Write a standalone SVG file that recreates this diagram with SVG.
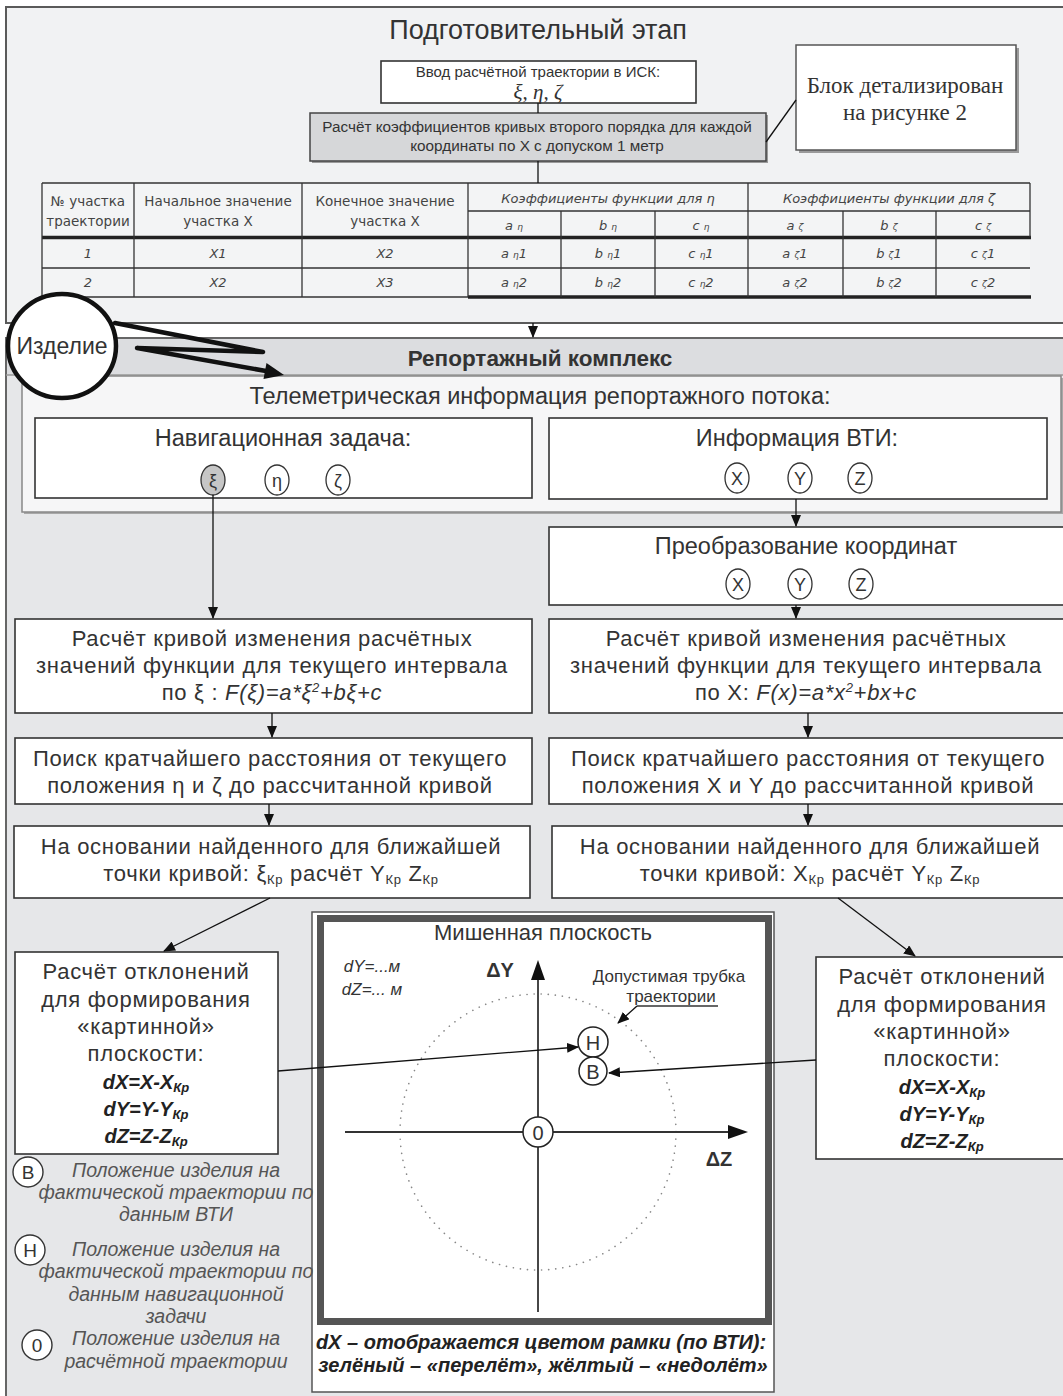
<svg xmlns="http://www.w3.org/2000/svg" width="1063" height="1396" viewBox="0 0 1063 1396">
<defs>
<marker id="arr" markerUnits="userSpaceOnUse" markerWidth="12" markerHeight="10" refX="11" refY="5" orient="auto"><path d="M0,0 L12,5 L0,10 z" fill="#111"/></marker>
</defs>
<style>
.s{font-family:"Liberation Sans",Arial,sans-serif;fill:#333;text-anchor:middle}
.serif{font-family:"Liberation Serif","Times New Roman",serif;fill:#333;text-anchor:middle}
.g{font-family:"DejaVu Sans",sans-serif;fill:#444;text-anchor:middle;font-size:13.5px}
.gi{font-family:"DejaVu Sans",sans-serif;fill:#444;text-anchor:middle;font-size:13px;font-style:italic}
.box{fill:#fff;stroke:#333;stroke-width:1.6}
.shadow{fill:#9a9a9a}
.big{font-size:22px;letter-spacing:0.7px}
.hd{font-size:23.5px}
.leg{font-family:"Liberation Sans",Arial,sans-serif;font-style:italic;fill:#555;text-anchor:middle;font-size:19.5px}
.tl{stroke:#333;stroke-width:1.3;fill:none}
.tk{stroke:#222;stroke-width:3.5;fill:none}
.con{stroke:#111;stroke-width:1.3;fill:none}
.frm{font-family:"Liberation Sans",Arial,sans-serif;font-style:italic;font-weight:bold;fill:#222;text-anchor:middle;font-size:20px}
</style>
<rect x="0" y="0" width="1063" height="1396" fill="#ffffff"/>

<g id="prep-panel">
<rect x="6" y="7" width="1062" height="316" fill="#f1f2f3" stroke="#5a5a5a" stroke-width="2"/>
<text class="s" x="538" y="39" font-size="27">Подготовительный этап</text>
</g>

<g id="input-node">
<rect x="381" y="61" width="315" height="42" class="box"/>
<text class="s" x="538" y="77" font-size="15">Ввод расчётной траектории в ИСК:</text>
<text class="serif" x="538" y="99" font-size="21" font-style="italic">ξ, η, ζ</text>
</g>

<g id="coef-node">
<rect x="312" y="115" width="456" height="48" class="shadow"/>
<rect x="310" y="113" width="456" height="48" fill="#d6d7d9" stroke="#444" stroke-width="1.5"/>
<text class="s" x="537" y="132" font-size="15.3">Расчёт коэффициентов кривых второго порядка для каждой</text>
<text class="s" x="537" y="151" font-size="15.3">координаты по X с допуском 1 метр</text>
</g>

<g id="callout-node">
<rect x="799" y="48" width="220" height="105" class="shadow"/>
<rect x="796" y="45" width="220" height="105" fill="#fff" stroke="#555" stroke-width="1.5"/>
<text class="serif" x="905" y="93" font-size="23">Блок детализирован</text>
<text class="serif" x="905" y="120" font-size="23">на рисунке 2</text>
</g>

<g id="coef-table">
<rect x="42" y="183" width="988" height="114" fill="#f3f4f5" stroke="none"/>
<line class="tl" x1="42" y1="183" x2="1030" y2="183"/>
<line class="tl" x1="468" y1="211" x2="1030" y2="211"/>
<line class="tk" x1="42" y1="237.5" x2="1031" y2="237.5"/>
<line class="tl" x1="42" y1="268" x2="1030" y2="268"/>
<line class="tl" x1="42" y1="297" x2="468" y2="297"/>
<line class="tk" x1="468" y1="297" x2="1031" y2="297"/>
<line class="tl" x1="42" y1="183" x2="42" y2="297"/>
<line class="tl" x1="134" y1="183" x2="134" y2="297"/>
<line class="tl" x1="302" y1="183" x2="302" y2="297"/>
<line class="tl" x1="468" y1="183" x2="468" y2="297"/>
<line class="tl" x1="561" y1="211" x2="561" y2="297"/>
<line class="tl" x1="655" y1="211" x2="655" y2="297"/>
<line class="tl" x1="748" y1="183" x2="748" y2="297"/>
<line class="tl" x1="843" y1="211" x2="843" y2="297"/>
<line class="tl" x1="936" y1="211" x2="936" y2="297"/>
<line class="tl" x1="1030" y1="183" x2="1030" y2="237"/>
<text class="g" x="88" y="206">№ участка</text>
<text class="g" x="88" y="226">траектории</text>
<text class="g" x="218" y="206">Начальное значение</text>
<text class="g" x="218" y="226">участка  X</text>
<text class="g" x="385" y="206">Конечное значение</text>
<text class="g" x="385" y="226">участка  X</text>
<text class="gi" x="608" y="203">Коэффициенты функции для  η</text>
<text class="gi" x="889" y="203">Коэффициенты функции для  ζ</text>
<text class="gi" x="514" y="230">a <tspan font-size="9">η</tspan></text>
<text class="gi" x="608" y="230">b <tspan font-size="9">η</tspan></text>
<text class="gi" x="701" y="230">c <tspan font-size="9">η</tspan></text>
<text class="gi" x="795" y="230">a <tspan font-size="9">ζ</tspan></text>
<text class="gi" x="889" y="230">b <tspan font-size="9">ζ</tspan></text>
<text class="gi" x="983" y="230">c <tspan font-size="9">ζ</tspan></text>
<text class="gi" x="88" y="258">1</text>
<text class="gi" x="218" y="258">X1</text>
<text class="gi" x="385" y="258">X2</text>
<text class="gi" x="514" y="258">a <tspan font-size="9">η</tspan>1</text>
<text class="gi" x="608" y="258">b <tspan font-size="9">η</tspan>1</text>
<text class="gi" x="701" y="258">c <tspan font-size="9">η</tspan>1</text>
<text class="gi" x="795" y="258">a <tspan font-size="9">ζ</tspan>1</text>
<text class="gi" x="889" y="258">b <tspan font-size="9">ζ</tspan>1</text>
<text class="gi" x="983" y="258">c <tspan font-size="9">ζ</tspan>1</text>
<text class="gi" x="88" y="287">2</text>
<text class="gi" x="218" y="287">X2</text>
<text class="gi" x="385" y="287">X3</text>
<text class="gi" x="514" y="287">a <tspan font-size="9">η</tspan>2</text>
<text class="gi" x="608" y="287">b <tspan font-size="9">η</tspan>2</text>
<text class="gi" x="701" y="287">c <tspan font-size="9">η</tspan>2</text>
<text class="gi" x="795" y="287">a <tspan font-size="9">ζ</tspan>2</text>
<text class="gi" x="889" y="287">b <tspan font-size="9">ζ</tspan>2</text>
<text class="gi" x="983" y="287">c <tspan font-size="9">ζ</tspan>2</text>
</g>

<g id="reportage-panel">
<rect x="6" y="338" width="1062" height="1070" fill="#e6e7e9" stroke="#666" stroke-width="2"/>
<rect x="7" y="339" width="1060" height="36" fill="#dcdde0"/>
<line x1="6" y1="375" x2="1063" y2="375" stroke="#999" stroke-width="1.5"/>
<text class="s" x="540" y="366" font-size="22.5" font-weight="bold">Репортажный комплекс</text>
</g>

<g id="telemetry-panel">
<rect x="24" y="378" width="1039" height="136" fill="#a8a8a8"/>
<rect x="22" y="376" width="1039" height="136" fill="#f6f6f7" stroke="#888" stroke-width="1.5"/>
<text class="s hd" x="540" y="404">Телеметрическая информация репортажного потока:</text>
</g>

<g id="nav-node">
<rect x="35" y="418" width="497" height="80" class="box"/>
<text class="s hd" x="283" y="446">Навигационная задача:</text>
<ellipse cx="213" cy="480" rx="12" ry="15" fill="#c6c6c6" stroke="#333" stroke-width="1.3"/>
<ellipse cx="277" cy="480" rx="12" ry="15" fill="#fff" stroke="#333" stroke-width="1.3"/>
<ellipse cx="338" cy="480" rx="12" ry="15" fill="#fff" stroke="#333" stroke-width="1.3"/>
<text class="s" x="213" y="487" font-size="18">ξ</text>
<text class="s" x="277" y="487" font-size="18">η</text>
<text class="s" x="338" y="487" font-size="18">ζ</text>
</g>

<g id="vti-node">
<rect x="549" y="418" width="498" height="81" class="box"/>
<text class="s hd" x="797" y="446">Информация ВТИ:</text>
<ellipse cx="737" cy="478" rx="12" ry="15" fill="#fff" stroke="#333" stroke-width="1.3"/>
<ellipse cx="800" cy="478" rx="12" ry="15" fill="#fff" stroke="#333" stroke-width="1.3"/>
<ellipse cx="860" cy="478" rx="12" ry="15" fill="#fff" stroke="#333" stroke-width="1.3"/>
<text class="s" x="737" y="485" font-size="18">X</text>
<text class="s" x="800" y="485" font-size="18">Y</text>
<text class="s" x="860" y="485" font-size="18">Z</text>
</g>

<g id="transform-node">
<rect x="549" y="527" width="520" height="78" class="box"/>
<text class="s hd" x="806" y="554">Преобразование координат</text>
<ellipse cx="738" cy="584" rx="12" ry="15" fill="#fff" stroke="#333" stroke-width="1.3"/>
<ellipse cx="800" cy="584" rx="12" ry="15" fill="#fff" stroke="#333" stroke-width="1.3"/>
<ellipse cx="861" cy="584" rx="12" ry="15" fill="#fff" stroke="#333" stroke-width="1.3"/>
<text class="s" x="738" y="591" font-size="18">X</text>
<text class="s" x="800" y="591" font-size="18">Y</text>
<text class="s" x="861" y="591" font-size="18">Z</text>
</g>

<g id="curve-left">
<rect x="15" y="619" width="517" height="94" class="box"/>
<text class="s big" x="272" y="646">Расчёт кривой изменения расчётных</text>
<text class="s big" x="272" y="673">значений функции для текущего интервала</text>
<text class="s big" x="272" y="700">по ξ : <tspan font-style="italic">F(ξ)=a*ξ<tspan font-size="13" dy="-8">2</tspan><tspan dy="8">+bξ+c</tspan></tspan></text>
</g>

<g id="curve-right">
<rect x="549" y="619" width="520" height="94" class="box"/>
<text class="s big" x="806" y="646">Расчёт кривой изменения расчётных</text>
<text class="s big" x="806" y="673">значений функции для текущего интервала</text>
<text class="s big" x="806" y="700">по X: <tspan font-style="italic">F(x)=a*x<tspan font-size="13" dy="-8">2</tspan><tspan dy="8">+bx+c</tspan></tspan></text>
</g>

<g id="search-left">
<rect x="15" y="738" width="517" height="66" class="box"/>
<text class="s big" x="270" y="766">Поиск кратчайшего расстояния от текущего</text>
<text class="s big" x="270" y="793">положения η и ζ  до рассчитанной кривой</text>
</g>

<g id="search-right">
<rect x="549" y="738" width="520" height="66" class="box"/>
<text class="s big" x="808" y="766">Поиск кратчайшего расстояния от текущего</text>
<text class="s big" x="808" y="793">положения X  и Y до рассчитанной кривой</text>
</g>

<g id="nearest-left">
<rect x="14" y="826" width="516" height="72" class="box"/>
<text class="s big" x="271" y="854">На основании найденного для ближайшей</text>
<text class="s big" x="271" y="881">точки кривой:  ξ<tspan font-size="13" dy="3">Кр</tspan><tspan dy="-3"> расчёт Y</tspan><tspan font-size="13" dy="3">Кр</tspan><tspan dy="-3"> Z</tspan><tspan font-size="13" dy="3">Кр</tspan></text>
</g>

<g id="nearest-right">
<rect x="552" y="826" width="517" height="72" class="box"/>
<text class="s big" x="810" y="854">На основании найденного для ближайшей</text>
<text class="s big" x="810" y="881">точки кривой:  X<tspan font-size="13" dy="3">Кр</tspan><tspan dy="-3"> расчёт Y</tspan><tspan font-size="13" dy="3">Кр</tspan><tspan dy="-3"> Z</tspan><tspan font-size="13" dy="3">Кр</tspan></text>
</g>

<g id="deviation-left">
<rect x="15" y="952" width="263" height="202" class="box"/>
<text class="s big" x="146" y="979">Расчёт отклонений</text>
<text class="s big" x="146" y="1007">для формирования</text>
<text class="s big" x="146" y="1034">«картинной»</text>
<text class="s big" x="146" y="1061">плоскости:</text>
<text class="frm" x="146" y="1089">dX=X-X<tspan font-size="13" dy="3">Кр</tspan></text>
<text class="frm" x="146" y="1116">dY=Y-Y<tspan font-size="13" dy="3">Кр</tspan></text>
<text class="frm" x="146" y="1143">dZ=Z-Z<tspan font-size="13" dy="3">Кр</tspan></text>
</g>

<g id="deviation-right">
<rect x="816" y="957" width="252" height="202" class="box"/>
<text class="s big" x="942" y="984">Расчёт отклонений</text>
<text class="s big" x="942" y="1012">для формирования</text>
<text class="s big" x="942" y="1039">«картинной»</text>
<text class="s big" x="942" y="1066">плоскости:</text>
<text class="frm" x="942" y="1094">dX=X-X<tspan font-size="13" dy="3">Кр</tspan></text>
<text class="frm" x="942" y="1121">dY=Y-Y<tspan font-size="13" dy="3">Кр</tspan></text>
<text class="frm" x="942" y="1148">dZ=Z-Z<tspan font-size="13" dy="3">Кр</tspan></text>
</g>

<g id="target-plane">
<rect x="312" y="912" width="462" height="480" fill="#fff" stroke="#555" stroke-width="1.5"/>
<rect x="320.5" y="918.5" width="448" height="403" fill="#fff" stroke="#555" stroke-width="7"/>
<text class="s" x="543" y="940" font-size="22">Мишенная плоскость</text>
<text class="s" x="372" y="972" font-size="17" font-style="italic" fill="#555">dY=...м</text>
<text class="s" x="372" y="995" font-size="17" font-style="italic" fill="#555">dZ=... м</text>
<circle cx="538" cy="1132" r="138" fill="none" stroke="#888" stroke-width="1.6" stroke-dasharray="0.1 7" stroke-linecap="round"/>
<line x1="538" y1="1312" x2="538" y2="978" stroke="#333" stroke-width="1.8"/>
<path d="M531,980 L538,960 L545,980 z" fill="#111"/>
<line x1="345" y1="1132" x2="730" y2="1132" stroke="#333" stroke-width="1.8"/>
<path d="M728,1125 L748,1132 L728,1139 z" fill="#111"/>
<text class="s" x="500" y="977" font-size="20" font-weight="bold" fill="#222">ΔY</text>
<text class="s" x="719" y="1166" font-size="20" font-weight="bold" fill="#222">ΔZ</text>
<text class="s" x="669" y="982" font-size="17">Допустимая трубка</text>
<text class="s" x="671" y="1002" font-size="17">траектории</text>
<line x1="637" y1="1006" x2="718" y2="1006" stroke="#333" stroke-width="1.3"/>
<circle cx="593" cy="1042" r="15" fill="#fff" stroke="#222" stroke-width="1.5"/>
<text class="s" x="593" y="1050" font-size="20">Н</text>
<circle cx="593" cy="1071" r="14" fill="#fff" stroke="#222" stroke-width="1.5"/>
<text class="s" x="593" y="1079" font-size="20">В</text>
<circle cx="538" cy="1132" r="15" fill="#fff" stroke="#222" stroke-width="1.5"/>
<text class="s" x="538" y="1140" font-size="20">0</text>
<text class="frm" x="541" y="1349" font-size="17.6">dX – отображается цветом рамки (по ВТИ):</text>
<text class="frm" x="543" y="1372" font-size="17.6">зелёный – «перелёт», жёлтый – «недолёт»</text>
</g>

<g id="legend">
<circle cx="28" cy="1172" r="15" fill="#fff" stroke="#333" stroke-width="1.4"/>
<text class="s" x="28" y="1179" font-size="19">В</text>
<text class="leg" x="176" y="1177">Положение изделия на</text>
<text class="leg" x="176" y="1199">фактической траектории по</text>
<text class="leg" x="176" y="1221">данным ВТИ</text>
<circle cx="30" cy="1250" r="15" fill="#fff" stroke="#333" stroke-width="1.4"/>
<text class="s" x="30" y="1257" font-size="19">Н</text>
<text class="leg" x="176" y="1256">Положение изделия на</text>
<text class="leg" x="176" y="1278">фактической траектории по</text>
<text class="leg" x="176" y="1301">данным навигационной</text>
<text class="leg" x="176" y="1323">задачи</text>
<circle cx="37" cy="1345" r="15" fill="#fff" stroke="#333" stroke-width="1.4"/>
<text class="s" x="37" y="1352" font-size="19">0</text>
<text class="leg" x="176" y="1345">Положение изделия на</text>
<text class="leg" x="176" y="1368">расчётной траектории</text>
</g>

<g id="connectors">
<line class="con" x1="538" y1="103" x2="538" y2="113"/>
<line class="con" x1="538" y1="161" x2="538" y2="183"/>
<line class="con" x1="766" y1="142" x2="796" y2="100"/>
<line class="con" x1="533" y1="323" x2="533" y2="337" marker-end="url(#arr)"/>
<line class="con" x1="213" y1="495" x2="213" y2="618" marker-end="url(#arr)"/>
<line class="con" x1="796" y1="499" x2="796" y2="526" marker-end="url(#arr)"/>
<line class="con" x1="796" y1="605" x2="796" y2="618" marker-end="url(#arr)"/>
<line class="con" x1="272" y1="713" x2="272" y2="737" marker-end="url(#arr)"/>
<line class="con" x1="808" y1="713" x2="808" y2="737" marker-end="url(#arr)"/>
<line class="con" x1="269" y1="804" x2="269" y2="825" marker-end="url(#arr)"/>
<line class="con" x1="808" y1="804" x2="808" y2="825" marker-end="url(#arr)"/>
<line class="con" x1="270" y1="898" x2="164" y2="951" marker-end="url(#arr)"/>
<line class="con" x1="838" y1="898" x2="915" y2="956" marker-end="url(#arr)"/>
<line class="con" x1="278" y1="1071" x2="578" y2="1047" marker-end="url(#arr)"/>
<line class="con" x1="816" y1="1060" x2="609" y2="1073" marker-end="url(#arr)"/>
<line class="con" x1="637" y1="1006" x2="618" y2="1023" marker-end="url(#arr)"/>
</g>

<g id="product-node">
<ellipse cx="62" cy="346" rx="54" ry="52" fill="#fff" stroke="#111" stroke-width="4.5"/>
<text class="s" x="62" y="354" font-size="23" fill="#222">Изделие</text>
<path d="M115,323 L263,352 L137,348 L266,371" fill="none" stroke="#111" stroke-width="4.5" stroke-linejoin="round" stroke-linecap="round"/>
<path d="M266.5,363 L284,375 L263.5,379 z" fill="#111"/>
</g>
</svg>
